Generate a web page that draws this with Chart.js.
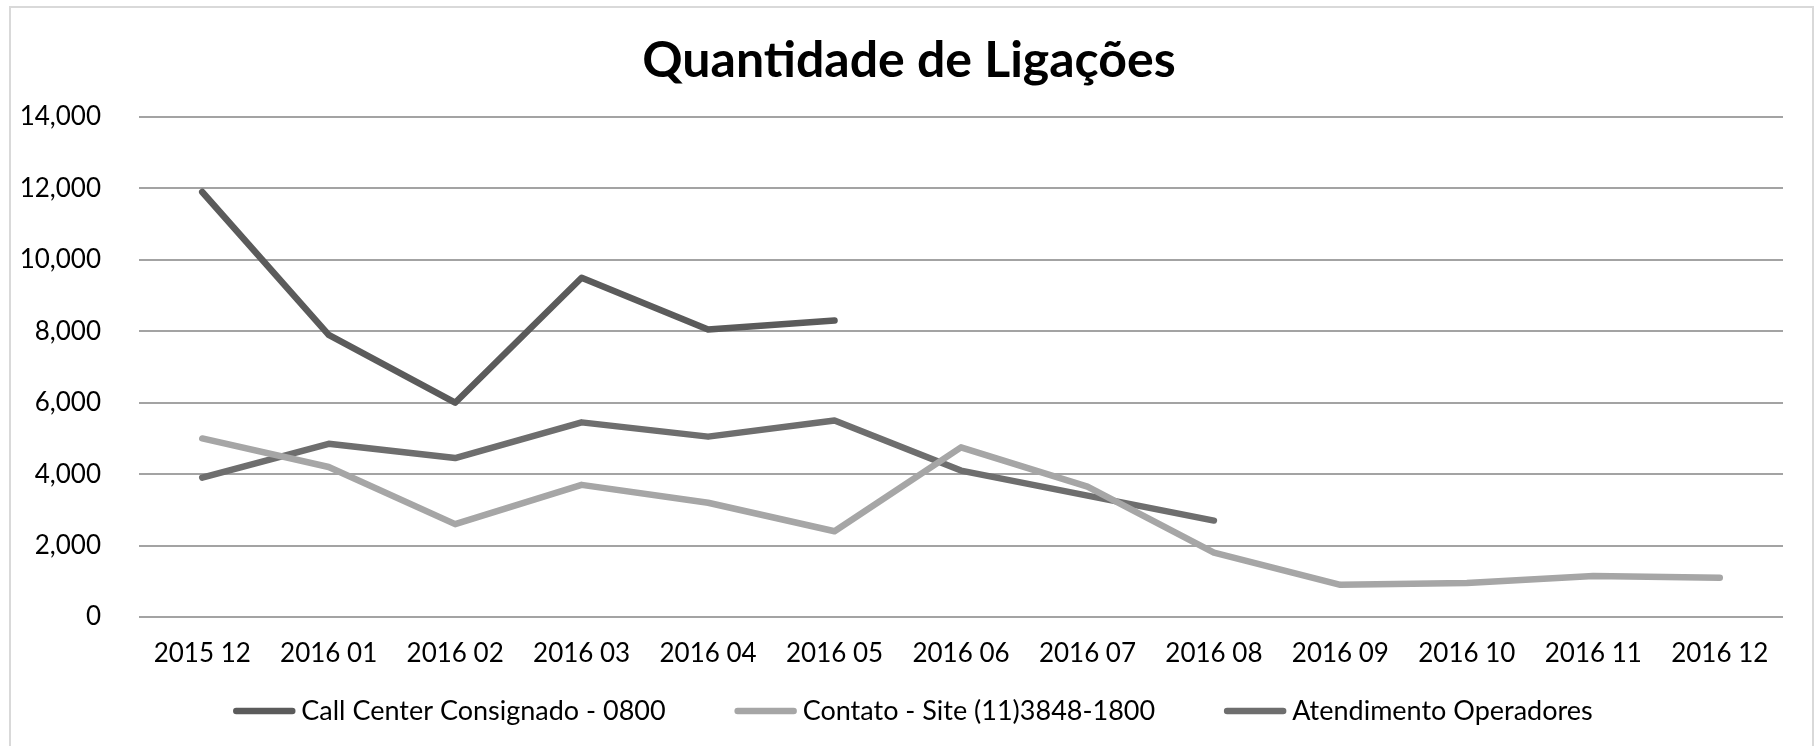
<!DOCTYPE html>
<html>
<head>
<meta charset="utf-8">
<script src="https://cdn.jsdelivr.net/npm/chart.js@4"></script>
<style>
  body { margin: 0; background: #fff; }
  #caixa { position: absolute; left: 9px; top: 6px; width: 1805px; height: 740px; border: 2px solid #d9d9d9; border-bottom: none; box-sizing: border-box; }
  #graf { position: absolute; left: 0; top: 0; }
</style>
</head>
<body>
<div id="caixa"></div>
<canvas id="graf" width="1818" height="748"></canvas>
<script>
// Quantidade de ligações por mês
const meses = ['2015 12', '2016 01', '2016 02', '2016 03', '2016 04', '2016 05', '2016 06',
  '2016 07', '2016 08', '2016 09', '2016 10', '2016 11', '2016 12'];
const callCenter = [11900, 7900, 6000, 9500, 8050, 8300, null, null, null, null, null, null, null];
const contatoSite = [5000, 4200, 2600, 3700, 3200, 2400, 4750, 3650, 1800, 900, 950, 1150, 1100];
const atendimento = [3900, 4850, 4450, 5450, 5050, 5500, 4100, 3400, 2700, null, null, null, null];
const ticksY = [0, 2000, 4000, 6000, 8000, 10000, 12000, 14000];

const fonte = "Lato, 'Open Sans', sans-serif";

// legenda desenhada a mão: linha curta + texto, estilo Excel
const legendaLinhas = {
  id: 'legendaLinhas',
  afterLayout(chart) {
    // titulo centrado na largura toda, como no original
    chart.titleBlock.left = 0;
    chart.titleBlock.right = chart.width;
  },
  afterDraw(chart) {
    const c = chart.ctx;
    const sets = chart.data.datasets;
    const compLinha = 62, espTexto = 6, espItem = 69, yLeg = 711;
    c.save();
    c.font = `27px ${fonte}`;
    const larguras = sets.map((d) => c.measureText(d.label).width);
    const total = larguras.reduce((s, w) => s + compLinha + espTexto + w, 0) + espItem * (sets.length - 1);
    let x = (chart.width - total) / 2 + 4;
    sets.forEach((d, i) => {
      c.strokeStyle = d.borderColor;
      c.lineWidth = d.borderWidth;
      c.lineCap = 'round';
      c.beginPath();
      c.moveTo(x + 3, yLeg);
      c.lineTo(x + compLinha - 3, yLeg);
      c.stroke();
      c.fillStyle = '#000';
      c.textBaseline = 'middle';
      c.fillText(d.label, x + compLinha + espTexto, yLeg);
      x += compLinha + espTexto + larguras[i] + espItem;
    });
    c.restore();
  }
};

const ctx = document.getElementById('graf').getContext('2d');
const grafico = new Chart(ctx, {
  type: 'line',
  data: {
    labels: meses,
    datasets: [
      {label: 'Call Center Consignado - 0800', data: callCenter, borderColor: '#5b5b5b', backgroundColor: '#5b5b5b', borderWidth: 6.5},
      {label: 'Contato - Site (11)3848-1800', data: contatoSite, borderColor: '#a6a6a6', backgroundColor: '#a6a6a6', borderWidth: 6.5},
      {label: 'Atendimento Operadores', data: atendimento, borderColor: '#6e6e6e', backgroundColor: '#6e6e6e', borderWidth: 6.5}
    ]
  },
  plugins: [legendaLinhas],
  options: {
    responsive: false,
    animation: false,
    spanGaps: false,
    elements: {
      point: {radius: 0},
      line: {tension: 0, borderCapStyle: 'round', borderJoinStyle: 'round'}
    },
    layout: {padding: {left: 0, right: 35, top: 0, bottom: 76}},
    plugins: {
      title: {
        display: true,
        text: 'Quantidade de Ligações',
        color: '#000',
        font: {family: fonte, size: 50, weight: 'bold'},
        padding: {top: 31, bottom: 26}
      },
      legend: {display: false},
      tooltip: {enabled: false}
    },
    scales: {
      x: {
        offset: true,
        grid: {display: false},
        border: {display: false},
        ticks: {color: '#000', font: {family: fonte, size: 26}, padding: 13, maxRotation: 0},
        afterFit: (s) => { s.height = 55; }
      },
      y: {
        min: 0,
        max: 14000,
        afterBuildTicks: (s) => { s.ticks = ticksY.map((v) => ({value: v})); },
        grid: {color: '#a3a3a3', lineWidth: 2, drawTicks: false},
        border: {display: false},
        ticks: {
          color: '#000',
          font: {family: fonte, size: 26},
          padding: 38,
          callback: (v) => v.toLocaleString('en-US')
        },
        afterFit: (s) => { s.width = 139; }
      }
    }
  }
});
</script>
</body>
</html>
